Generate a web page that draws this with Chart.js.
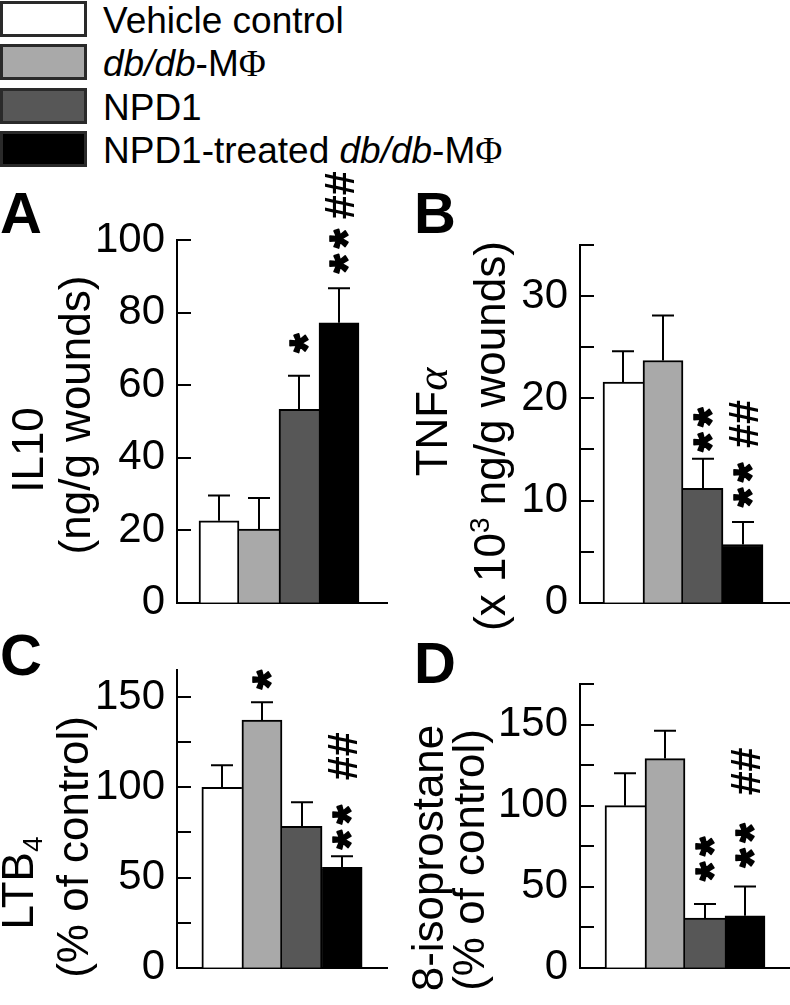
<!DOCTYPE html>
<html><head><meta charset="utf-8">
<script src="https://cdn.jsdelivr.net/npm/chart.js@4.4.1/dist/chart.umd.min.js"></script>
<style>
html,body{margin:0;padding:0;background:#fff;}
body{width:790px;height:1005px;position:relative;overflow:hidden;font-family:"Liberation Sans",Arial,sans-serif;}
canvas{position:absolute;}
.lg-box{position:absolute;left:0;width:87px;height:36px;box-sizing:border-box;border:3px solid #2a2a2a;}
.lg-text{position:absolute;left:103px;font-size:37px;line-height:36px;white-space:nowrap;color:#000;}
.phi{font-family:"Liberation Serif",serif;font-style:normal;}
</style></head><body>
<div id="legend"></div>
<canvas id="cA"></canvas><canvas id="cB"></canvas><canvas id="cC"></canvas><canvas id="cD"></canvas>
<script>
// ---------- data ----------
const categories = ["Vehicle control", "db/db-MΦ", "NPD1", "NPD1-treated db/db-MΦ"];
const panelLetters = ["A", "B", "C", "D"];

const il10Mean = [22.6, 20.3, 53.3, 77.2];
const il10Sem  = [7.0, 8.6, 9.3, 9.5];
const tnfMean  = [21.6, 23.7, 11.2, 5.7];
const tnfSem   = [3.0, 4.4, 2.9, 2.2];
const ltb4Mean = [100, 137.2, 78.4, 55.7];
const ltb4Sem  = [12.2, 9.9, 13.3, 6.1];
const isoMean  = [100, 129, 30.6, 32.1];
const isoSem   = [20, 17.2, 8.7, 18.1];

const tickLabelsA = ["0", "20", "40", "60", "80", "100"];
const tickLabelsB = ["0", "10", "20", "30"];
const tickLabelsC = ["0", "50", "100", "150"];
const tickLabelsD = ["0", "50", "100", "150"];

const starsA = ["", "", "*", "**"];  const hashA = ["", "", "", "##"];
const starsB = ["", "", "**", "**"]; const hashB = ["", "", "", "##"];
const starsC = ["", "*", "", "**"];  const hashC = ["", "", "", "##"];
const starsD = ["", "", "**", "**"]; const hashD = ["", "", "", "##"];

const titleA = [["IL10"], ["(ng/g wounds)"]];
const titleB = [["TNF", {t: "α", s: "greek"}], ["(x 10", {t: "3", s: "sup"}, " ng/g wounds)"]];
const titleC = [["LTB", {t: "4", s: "sub"}], ["(% of control)"]];
const titleD = [["8-isoprostane"], ["(% of control)"]];

// ---------- styles / layout ----------
const SANS = "'Liberation Sans', Arial, Helvetica, sans-serif";
const barFills = ["#ffffff", "#a9a9a9", "#575757", "#000000"];
const legendFills = ["#ffffff", "#a9a9a9", "#575757", "#000000"];

const panels = [
  { cid: "cA", canvas: {x: 0, y: 150, w: 395, h: 490}, area: {l: 177, r: 387, t: 240, b: 603},
    mean: il10Mean, sem: il10Sem, yMax: 100, yStep: 20, labels: tickLabelsA, xRange: [-1.05, 4.2],
    stars: starsA, hashes: hashA, starGap: [0, 0, 33, 25], hashGap: 43,
    title: titleA, titlePos: [[43, 450], [90, 415]], letter: panelLetters[0], letterPos: [0, 233] },
  { cid: "cB", canvas: {x: 395, y: 150, w: 395, h: 490}, area: {l: 580, r: 790, t: 245, b: 603},
    mean: tnfMean, sem: tnfSem, yMax: 35, yStep: 5, labels: tickLabelsB, xRange: [-1.075, 4.175],
    stars: starsB, hashes: hashB, starGap: [0, 0, 17, 25], hashGap: 48,
    title: titleB, titlePos: [[447, 422], [505, 436]], letter: panelLetters[1], letterPos: [414, 233] },
  { cid: "cC", canvas: {x: 0, y: 600, w: 395, h: 405}, area: {l: 177, r: 387, t: 670, b: 988},
    mean: ltb4Mean, sem: ltb4Sem, yMax: 165, yStep: 25, labels: tickLabelsC, xRange: [-1.12, 4.12],
    stars: starsC, hashes: hashC, starGap: [0, 23, 0, 17], hashGap: 58,
    title: titleC, titlePos: [[33, 883], [88, 847]], letter: panelLetters[2], letterPos: [0, 675] },
  { cid: "cD", canvas: {x: 395, y: 600, w: 395, h: 405}, area: {l: 580, r: 790, t: 684, b: 989},
    mean: isoMean, sem: isoSem, yMax: 175, yStep: 25, labels: tickLabelsD, xRange: [-1.125, 4.125],
    stars: starsD, hashes: hashD, starGap: [0, 0, 33, 29], hashGap: 61,
    title: titleD, titlePos: [[443, 858], [484, 860]], letter: panelLetters[3], letterPos: [414, 683] }
];

// ---------- legend (HTML) ----------
(function buildLegend() {
  const lg = document.getElementById("legend");
  categories.forEach((c, i) => {
    const top = Math.round(1 + i * 43.4);
    const box = document.createElement("div");
    box.className = "lg-box";
    box.style.top = top + "px";
    box.style.background = legendFills[i];
    lg.appendChild(box);
    const tx = document.createElement("div");
    tx.className = "lg-text";
    tx.style.top = (top + 2) + "px";
    tx.innerHTML = c.replace("db/db", "<i>db/db</i>").replace("Φ", '<span class="phi">Φ</span>');
    lg.appendChild(tx);
  });
})();

// ---------- drawing helpers ----------
function drawRich(ctx, segs, bx, cy, size) {
  ctx.save();
  ctx.translate(bx, cy);
  ctx.rotate(-Math.PI / 2);
  ctx.textBaseline = "alphabetic";
  ctx.textAlign = "left";
  ctx.fillStyle = "#000";
  const parts = segs.map(s => typeof s === "string" ? {t: s, s: "n"} : Object.assign({}, s));
  const fontFor = p => p.s === "greek" ? `italic ${size}px 'Liberation Serif', serif`
    : (p.s === "sup" || p.s === "sub") ? `${Math.round(size * 0.64)}px ${SANS}` : `${size}px ${SANS}`;
  let total = 0;
  parts.forEach(p => { ctx.font = fontFor(p); p.w = ctx.measureText(p.t).width; total += p.w; });
  let x = -total / 2;
  parts.forEach(p => {
    ctx.font = fontFor(p);
    const dy = p.s === "sup" ? -size * 0.36 : p.s === "sub" ? size * 0.2 : 0;
    ctx.fillText(p.t, x, dy);
    x += p.w;
  });
  ctx.restore();
}

function drawCentered(ctx, str, font, cx, cy, thicken) {
  ctx.save();
  ctx.translate(cx, cy);
  ctx.rotate(-Math.PI / 2);
  ctx.font = font;
  ctx.textAlign = "left";
  ctx.textBaseline = "alphabetic";
  ctx.fillStyle = "#000";
  ctx.strokeStyle = "#000";
  ctx.lineJoin = "round";
  const m = ctx.measureText(str);
  const gx = -(m.actualBoundingBoxRight - m.actualBoundingBoxLeft) / 2;
  const gy = (m.actualBoundingBoxAscent - m.actualBoundingBoxDescent) / 2;
  ctx.fillText(str, gx, gy);
  if (thicken) { ctx.lineWidth = thicken; ctx.strokeText(str, gx, gy); }
  ctx.restore();
}

function starFont(ctx, target) {
  ctx.save();
  ctx.font = `bold 100px ${SANS}`;
  const m = ctx.measureText("*");
  const w = m.actualBoundingBoxRight + m.actualBoundingBoxLeft;
  const h = m.actualBoundingBoxAscent + m.actualBoundingBoxDescent;
  ctx.restore();
  return `bold ${Math.round(100 * target / Math.max(w, h))}px ${SANS}`;
}

const decorPlugin = {
  id: "decor",
  afterDatasetsDraw(chart) {
    const p = chart.options.plugins.decor.panel;
    const ctx = chart.ctx;
    const ys = chart.scales.y;
    const ca = chart.chartArea;
    const meta = chart.getDatasetMeta(0);
    ctx.save();
    ctx.strokeStyle = "#000";
    ctx.lineWidth = 2;
    ctx.lineCap = "butt";
    // inward tick marks
    ys.ticks.forEach(t => {
      const y = Math.round(ys.getPixelForValue(t.value));
      ctx.beginPath();
      ctx.moveTo(ca.left - 1, y);
      ctx.lineTo(ca.left + 14, y);
      ctx.stroke();
    });
    // error bars
    meta.data.forEach((bar, i) => {
      const top = ys.getPixelForValue(p.mean[i]);
      const cap = ys.getPixelForValue(p.mean[i] + p.sem[i]);
      const x = Math.round(bar.x);
      ctx.beginPath();
      ctx.moveTo(x, top);
      ctx.lineTo(x, cap);
      ctx.moveTo(x - 11, cap);
      ctx.lineTo(x + 11, cap);
      ctx.stroke();
    });
    // significance marks
    const sf = starFont(ctx, 19);
    meta.data.forEach((bar, i) => {
      const s = p.stars[i];
      if (!s) return;
      const cap = ys.getPixelForValue(p.mean[i] + p.sem[i]);
      let cy = cap - p.starGap[i];
      let topStar = cy;
      for (let k = 0; k < s.length; k++) {
        drawCentered(ctx, s[k], sf, bar.x, cy, 1.6);
        topStar = cy;
        cy -= 25;
      }
      if (p.hashes[i]) {
        drawCentered(ctx, p.hashes[i], `bold 43px ${SANS}`, bar.x, topStar - p.hashGap, 0);
      }
    });
    // axis titles
    p.title.forEach((line, k) => {
      drawRich(ctx, line, p.titlePos[k][0] - p.canvas.x, p.titlePos[k][1] - p.canvas.y, 44);
    });
    // panel letter
    ctx.font = `bold 58px ${SANS}`;
    ctx.fillStyle = "#000";
    ctx.textAlign = "left";
    ctx.textBaseline = "alphabetic";
    ctx.fillText(p.letter, p.letterPos[0] - p.canvas.x, p.letterPos[1] - p.canvas.y);
    ctx.restore();
  }
};

// ---------- charts ----------
panels.forEach(p => {
  const cv = document.getElementById(p.cid);
  cv.width = p.canvas.w; cv.height = p.canvas.h;
  cv.style.left = p.canvas.x + "px"; cv.style.top = p.canvas.y + "px";
  cv.style.width = p.canvas.w + "px"; cv.style.height = p.canvas.h + "px";
  const vals = p.mean;
  new Chart(cv, {
    type: "bar",
    data: {
      labels: categories,
      datasets: [{
        data: vals.map((v, i) => ({x: i, y: v})),
        backgroundColor: barFills,
        borderColor: "#000",
        borderSkipped: false,
        borderWidth: c => {
          const i = c.dataIndex;
          return {
            top: 2, bottom: 0,
            left: (i === 0 || vals[i - 1] <= vals[i]) ? 2 : 0,
            right: (i === vals.length - 1 || vals[i + 1] < vals[i]) ? 2 : 0
          };
        },
        categoryPercentage: 1,
        barPercentage: 1
      }]
    },
    options: {
      responsive: false,
      animation: false,
      devicePixelRatio: 1,
      events: [],
      layout: {
        autoPadding: false,
        padding: {
          left: 0,
          top: p.area.t - p.canvas.y,
          right: p.canvas.x + p.canvas.w - p.area.r,
          bottom: p.canvas.y + p.canvas.h - p.area.b
        }
      },
      plugins: { legend: {display: false}, tooltip: {enabled: false}, decor: {panel: p} },
      scales: {
        x: {
          type: "linear", min: p.xRange[0], max: p.xRange[1], offset: false,
          ticks: {display: false, stepSize: 1, includeBounds: false},
          grid: {display: false, drawTicks: false},
          border: {display: true, width: 2, color: "#000"},
          afterFit: s => { s.height = 0; }
        },
        y: {
          min: 0, max: p.yMax,
          ticks: {
            stepSize: p.yStep, includeBounds: false, autoSkip: false, padding: 12,
            color: "#000", font: {family: SANS, size: 42},
            callback: v => p.labels.includes(String(v)) ? String(v) : ""
          },
          grid: {display: false, drawTicks: false},
          border: {display: true, width: 2, color: "#000"},
          afterFit: s => { s.width = p.area.l - p.canvas.x; }
        }
      }
    },
    plugins: [decorPlugin]
  });
});
</script>
</body></html>
